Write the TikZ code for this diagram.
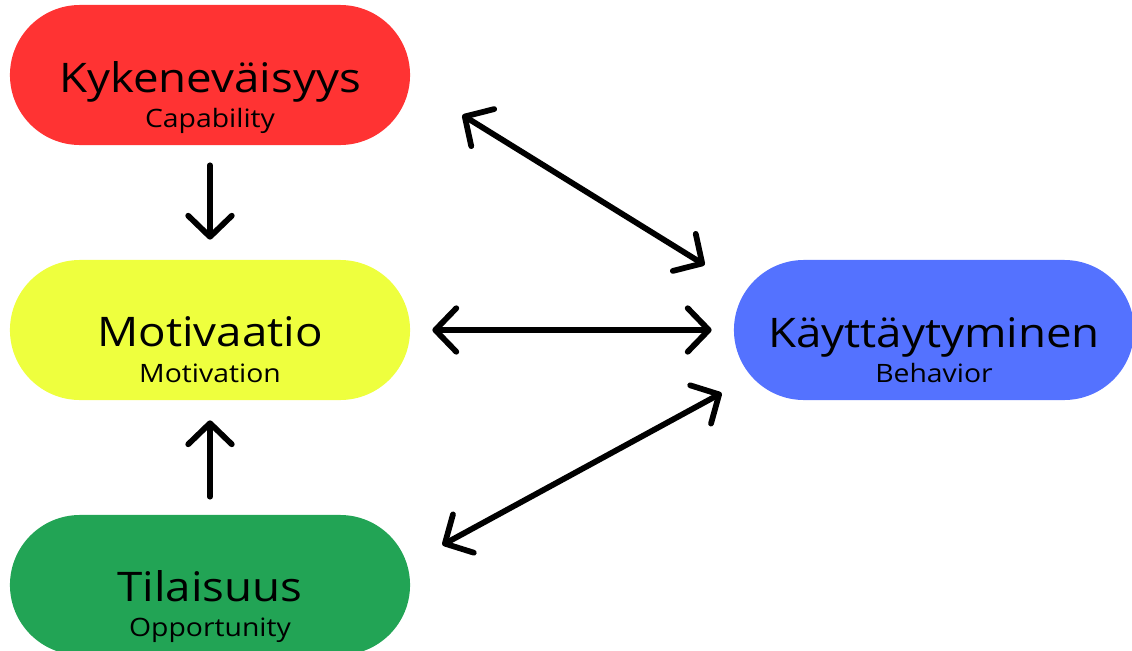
\documentclass[tikz,border=0pt]{standalone}
\usepackage{fontspec}
\setmainfont{Open Sans}[FakeStretch=1.12]
\usetikzlibrary{arrows.meta}
\definecolor{CapRed}{HTML}{FF3333}
\definecolor{MotYellow}{HTML}{EEFF3E}
\definecolor{OppGreen}{HTML}{22A455}
\definecolor{BehBlue}{HTML}{5472FF}

\begin{document}
\begin{tikzpicture}[x=0.025cm,y=-0.025cm,
        pill/.style={rounded corners=1.75cm,minimum width=10cm,minimum height=3.5cm,inner sep=0pt},
        title/.style={anchor=base,font=\fontsize{29}{35}\selectfont},
        sub/.style={anchor=base,font=\fontsize{18}{21}\selectfont},
        barb/.tip={Straight Barb[length=15pt,width=31pt,line cap=round,line join=round]},
        link/.style={line width=4.1pt,line cap=round,-barb},
        both/.style={line width=4.1pt,line cap=round,barb-barb}]
    \useasboundingbox (0,0) rectangle (1132,651);
    \begin{scope}
        \clip (0,0) rectangle (1132,651);
        \node[pill,fill=CapRed] (kyky) at (210,75) {};
        \node[pill,fill=MotYellow] (moti) at (210,330) {};
        \node[pill,fill=OppGreen] (tila) at (210,585) {};
        \node[pill,fill=BehBlue] (kayt) at (934,330) {};
    \end{scope}

    \node[title] (kykyT) at ([shift={(0,17)}]kyky.center) {Kykeneväisyys};
    \node[sub] (kykyS) at ([shift={(0,52)}]kyky.center) {Capability};
    \node[title] (motiT) at ([shift={(0,16)}]moti.center) {Motivaatio};
    \node[sub] (motiS) at ([shift={(0,52)}]moti.center) {Motivation};
    \node[title] (tilaT) at ([shift={(0,16)}]tila.center) {Tilaisuus};
    \node[sub] (tilaS) at ([shift={(0,51)}]tila.center) {Opportunity};
    \node[title] (kaytT) at ([shift={(0,17)}]kayt.center) {Käyttäytyminen};
    \node[sub] (kaytS) at ([shift={(0,52)}]kayt.center) {Behavior};

    \draw[link,shorten <=0.5cm,shorten >=0.5cm] (kyky.south) -- (moti.north);
    \draw[link,shorten <=0.45cm,shorten >=0.5cm] (tila.north) -- (moti.south);
    \draw[both] ([shift={(22,0)}]moti.east) -- ([shift={(-22,0)}]kayt.west);
    \draw[both] ([shift={(52,40)}]kyky.east) -- ([shift={(-29,-65)}]kayt.west);
    \draw[both] ([shift={(32,-40)}]tila.east) -- ([shift={(-12,63)}]kayt.west);
\end{tikzpicture}
\end{document}
